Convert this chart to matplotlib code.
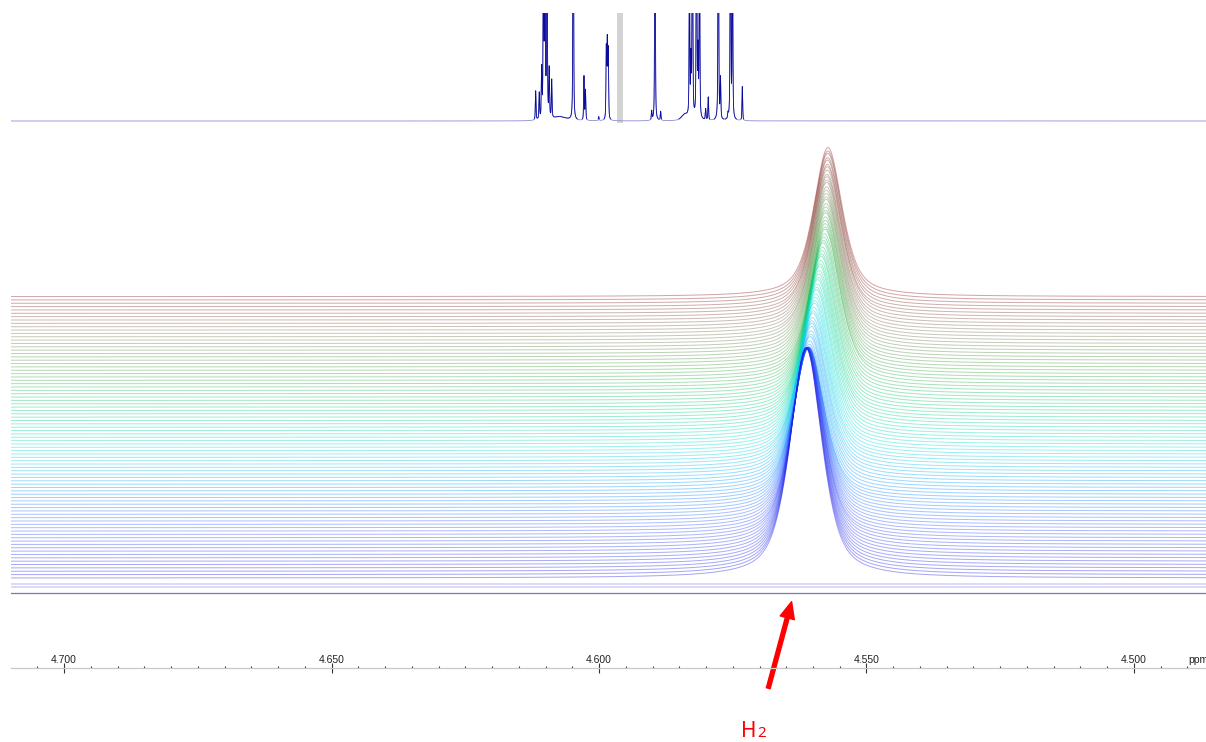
import matplotlib
matplotlib.use("Agg")
import matplotlib.pyplot as plt
import numpy as np
from matplotlib.colors import LinearSegmentedColormap
from matplotlib.ticker import MultipleLocator, FormatStrFormatter

##############################################################################
####      DATA    ############################################################
##############################################################################

# H2 signal in each stacked spectrum, first (bottom) to last (top)
h2_shift = [
    4.56131, 4.56129, 4.56125, 4.56124, 4.56122, 4.56120, 4.56116, 4.56114, 4.56112, 4.56110,
    4.56107, 4.56105, 4.56103, 4.56101, 4.56097, 4.56095, 4.56094, 4.56092, 4.56088, 4.56086,
    4.56084, 4.56082, 4.56079, 4.56077, 4.56075, 4.56067, 4.56060, 4.56052, 4.56045, 4.56037,
    4.56030, 4.56024, 4.56019, 4.56009, 4.56000, 4.55991, 4.55981, 4.55974, 4.55964, 4.55955,
    4.55946, 4.55936, 4.55929, 4.55920, 4.55910, 4.55901, 4.55892, 4.55884, 4.55875, 4.55866,
    4.55856, 4.55847, 4.55840, 4.55830, 4.55821, 4.55812, 4.55802, 4.55795, 4.55785, 4.55776,
    4.55774, 4.55772, 4.55769, 4.55767, 4.55765, 4.55763, 4.55761, 4.55757, 4.55755, 4.55754,
    4.55752, 4.55750, 4.55746, 4.55744, 4.55742, 4.55740, 4.55739, 4.55735, 4.55733, 4.55731,
    4.55729, 4.55727, 4.55724, 4.55722, 4.55720,
]
h2_height = [
    230, 227, 223, 220, 217, 213, 210, 207, 203, 200,
    197, 193, 190, 187, 183, 180, 177, 173, 170, 167,
    163, 160, 157, 153, 151, 150, 150, 151, 150, 150,
    151, 151, 150, 150, 151, 150, 150, 151, 150, 150,
    150, 151, 150, 150, 151, 150, 150, 150, 151, 150,
    150, 151, 150, 150, 150, 151, 150, 150, 150, 151,
    150, 150, 150, 150, 151, 150, 150, 150, 151, 150,
    150, 150, 150, 151, 150, 150, 149, 150, 150, 149,
    150, 149, 150, 149, 149,
]
h2_width = [
    0.0071, 0.0071, 0.0071, 0.0071, 0.0071, 0.0071, 0.0071, 0.0071, 0.0071, 0.0071,
    0.0071, 0.0071, 0.0070, 0.0070, 0.0070, 0.0070, 0.0070, 0.0070, 0.0070, 0.0070,
    0.0070, 0.0070, 0.0070, 0.0070, 0.0069, 0.0069, 0.0069, 0.0069, 0.0069, 0.0069,
    0.0069, 0.0069, 0.0069, 0.0069, 0.0069, 0.0069, 0.0068, 0.0068, 0.0068, 0.0068,
    0.0068, 0.0068, 0.0068, 0.0068, 0.0068, 0.0068, 0.0068, 0.0068, 0.0067, 0.0067,
    0.0067, 0.0067, 0.0067, 0.0067, 0.0067, 0.0067, 0.0067, 0.0067, 0.0067, 0.0067,
    0.0066, 0.0066, 0.0066, 0.0066, 0.0066, 0.0066, 0.0066, 0.0066, 0.0066, 0.0066,
    0.0066, 0.0066, 0.0065, 0.0065, 0.0065, 0.0065, 0.0065, 0.0065, 0.0065, 0.0064,
    0.0064, 0.0064, 0.0064, 0.0064, 0.0064,
]

# reference 1D spectrum shown above the stack (ppm, height, width)
ref_shift = [5.731, 5.695, 5.671, 5.653, 5.638, 5.618, 5.595, 5.570, 5.487, 5.354,
             5.246, 5.231, 5.098, 5.022, 5.012, 5.002, 4.566, 4.533, 4.476, 4.232,
             4.187, 4.172, 4.157, 4.116, 4.101, 4.086, 4.024, 3.998, 3.897, 3.875,
             3.800, 3.775, 3.755, 3.656]
ref_height = [29, 26, 48, 200, 300, 250, 48, 38, 4, 300,
              44, 30, 4, 70, 76, 68, 9, 250, 9, 6,
              150, 55, 300, 300, 63, 200, 11, 23, 300, 40,
              5, 300, 200, 34]
ref_width = [0.008, 0.008, 0.008, 0.008, 0.008, 0.008, 0.008, 0.008, 0.150, 0.008,
             0.008, 0.008, 0.008, 0.008, 0.008, 0.008, 0.008, 0.008, 0.008, 0.080,
             0.008, 0.008, 0.008, 0.008, 0.008, 0.008, 0.008, 0.008, 0.008, 0.008,
             0.008, 0.008, 0.008, 0.008]

# suppressed solvent region in the reference spectrum
solvent_region = (4.852, 4.918)

# window of the stacked plot (ppm)
ppm_left, ppm_right = 4.70991, 4.48654
ref_left, ref_right = 11.0, -1.0

# where the H2 arrow points
h2_label_ppm = 4.5640


##############################################################################
####      HELPERS    #########################################################
##############################################################################

def pseudo_voigt(x, x0, height, fwhm, eta=0.62):
    u = 2.0 * (x - x0) / fwhm
    return height * (eta / (1.0 + u ** 2) + (1.0 - eta) * np.exp(-np.log(2) * u ** 2))


W, H = 1206, 742
fig = plt.figure(figsize=(W / 100, H / 100), dpi=100)
fig.patch.set_facecolor("white")

left = 11 / W
width = 1 - left

# ---- reference spectrum strip --------------------------------------------
ax_ref = fig.add_axes([left, 1 - 125 / H, width, 112 / H])
x_ref = np.linspace(ref_right, ref_left, 40000)
y_ref = np.zeros_like(x_ref)
for s, h, w in zip(ref_shift, ref_height, ref_width):
    y_ref += pseudo_voigt(x_ref, s, h, w, eta=0.5)
ax_ref.axvspan(solvent_region[0], solvent_region[1], ymin=0.02, ymax=1.0,
               color="#d3d3d3", lw=0)
# pale baseline, peaks drawn darker on top
ax_ref.plot(x_ref, y_ref, color="#8c8cd8", lw=0.6)
ax_ref.plot(x_ref, np.where(y_ref > 2.0, y_ref, np.nan), color="#0c0c9c", lw=0.6)
ax_ref.set_xlim(ref_left, ref_right)
ax_ref.set_ylim(-4, 108)
ax_ref.axis("off")

# ---- stacked spectra ------------------------------------------------------
ax = fig.add_axes([left, 1 - 667 / H, width, 527 / H])
ax.set_xlim(ppm_left, ppm_right)
ax.set_ylim(0, 527)
ax.axis("off")

stack_cmap = LinearSegmentedColormap.from_list("stack", [
    (0.00, "#1a1ae6"), (0.18, "#3355ff"), (0.32, "#0099ff"), (0.45, "#00dede"),
    (0.60, "#00d07a"), (0.74, "#3aa33a"), (0.87, "#7a7050"), (1.00, "#8c1a1a"),
])

x = np.linspace(ppm_right, ppm_left, 4000)
n = len(h2_shift)
step = 3.35
first = 89.0

# back to front so the blue traces sit on top
for i in reversed(range(n)):
    y = first + i * step + pseudo_voigt(x, h2_shift[i], h2_height[i], h2_width[i])
    ax.plot(x, y, color=stack_cmap(i / (n - 1)), lw=0.7, alpha=0.4)

# first spectra of the series, before any H2 shows up
for off in (80.0, 83.0):
    ax.plot(x, np.full_like(x, off), color="#2a2ae0", lw=0.7, alpha=0.35)
ax.plot(x, np.full_like(x, 73.5), color="#4848b0", lw=0.9, alpha=0.75)

# ---- ppm scale -------------------------------------------------------------
ax_s = fig.add_axes([left, 1 - 668 / H - 0.02, width, 0.02])
ax_s.set_facecolor("none")
ax_s.set_xlim(ppm_left, ppm_right)
for side in ("left", "right", "bottom"):
    ax_s.spines[side].set_visible(False)
ax_s.spines["top"].set_color("#c8c8c8")
ax_s.spines["top"].set_linewidth(0.9)
ax_s.set_yticks([])
ax_s.xaxis.set_ticks_position("top")
ax_s.xaxis.set_label_position("top")
ax_s.xaxis.set_major_locator(MultipleLocator(0.05))
ax_s.xaxis.set_minor_locator(MultipleLocator(0.005))
ax_s.xaxis.set_major_formatter(FormatStrFormatter("%.3f"))
ax_s.tick_params(which="major", direction="inout", length=7, width=0.8,
                 color="#333333", labelsize=7.5, labelcolor="#222222", pad=-1)
ax_s.tick_params(which="minor", direction="out", length=1.8, width=0.8,
                 color="#333333")
for lbl in ax_s.get_xticklabels():
    lbl.set_family(["Liberation Sans", "DejaVu Sans"])
ax_s.annotate("ppm", xy=(4.4899, 1), xycoords=("data", "axes fraction"),
              xytext=(0, 2.5), textcoords="offset points", ha="left", va="bottom",
              fontsize=7.5, color="#222222", family=["Liberation Sans", "DejaVu Sans"],
              annotation_clip=False)

# ---- H2 marker -------------------------------------------------------------
tip = (h2_label_ppm, 140.3)
ax.annotate("", xy=tip, xycoords=("data", "figure pixels"),
            xytext=(-16.8, -62.3), textcoords="offset points",
            arrowprops=dict(color="#ff0000", width=2.8, headwidth=10.5,
                            headlength=12, shrink=0),
            annotation_clip=False)
ax.annotate("H", xy=tip, xycoords=("data", "figure pixels"),
            xytext=(-30.7, -97.2), textcoords="offset points", ha="center", va="baseline",
            fontsize=15, color="#ff0000", family=["Noto Sans", "DejaVu Sans"],
            annotation_clip=False)
ax.annotate("2", xy=tip, xycoords=("data", "figure pixels"),
            xytext=(-21.4, -97.6), textcoords="offset points", ha="center", va="baseline",
            fontsize=10.8, color="#ff0000", family=["Noto Sans", "DejaVu Sans"],
            annotation_clip=False)

fig.savefig("out.png", dpi=100)
